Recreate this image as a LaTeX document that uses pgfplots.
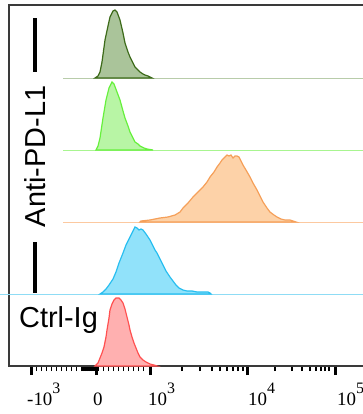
\documentclass[border=0pt]{standalone}
\usepackage{pgfplots}
\pgfplotsset{compat=1.18}
\usepackage{fontspec}
\setmainfont{Liberation Serif}
\newfontfamily\arial{Liberation Sans}
\definecolor{axisgray}{HTML}{3A3A3A}
\definecolor{dgL}{HTML}{3D6B1A}\definecolor{dgF}{HTML}{AAC49A}\definecolor{dgB}{HTML}{B8CCAA}
\definecolor{lgL}{HTML}{66F03C}\definecolor{lgF}{HTML}{B8F5A5}\definecolor{lgB}{HTML}{A8F590}
\definecolor{orL}{HTML}{F5A05A}\definecolor{orF}{HTML}{FDD2A8}\definecolor{orB}{HTML}{FCC9A0}
\definecolor{blL}{HTML}{28BEF0}\definecolor{blF}{HTML}{91E2FA}\definecolor{blB}{HTML}{8FDCF5}
\definecolor{rdL}{HTML}{FF5050}\definecolor{rdF}{HTML}{FFB0B0}
\newcommand\sq[1]{\raisebox{12bp}{\fontsize{16}{16}\selectfont #1}}
\begin{document}
\begin{tikzpicture}
\begin{axis}[
  x=1bp, y=1bp,
  xmin=9, xmax=366, ymin=0, ymax=361,
  clip=false,
  axis line style={draw=axisgray, line width=1.5bp},
  ytick=\empty,
  xtick pos=left,
  tick align=outside,
  xtick={31,96,150,247,335},
  xticklabels={{\hspace*{-4bp}-10\sq{3}},{\hspace*{-3bp}0},{\hspace*{-2bp}10\sq{3}},{\hspace*{1bp}10\sq{4}},{\hspace*{2bp}10\sq{5}}},
  minor xtick={36.7,41.7,46.7,51.7,56.7,61.7,66.7,71.7,76.7,82,84,86,88,90,92,94,98,103.3,108.3,113.3,118.3,123.3,128.3,133.3,138.3,143.3,182,200,212,220,227,233,238,243,275,292,302,310,316,321,325,329},
  major tick length=9bp, minor tick length=5bp,
  major tick style={line width=3bp, draw=black},
  minor tick style={line width=1.1bp, draw=black},
  xticklabel style={anchor=base west, inner sep=0pt, font=\fontsize{19}{19}\selectfont, yshift=-30bp},
]
% baselines
\addplot[draw=dgB, line width=0.8bp] coordinates {(63,288) (366,288)};
\addplot[draw=lgB, line width=0.8bp] coordinates {(63,216) (366,216)};
\addplot[draw=orB, line width=0.8bp] coordinates {(63,144) (366,144)};
\addplot[draw=blB, line width=0.8bp] coordinates {(0,72) (366,72)};
% dark green
\addplot[draw=dgL, fill=dgF, line width=1.2bp, y filter/.expression={y+288}] coordinates {
(95,0) (98,2) (100,6) (102,16) (105,38) (108,52) (110,61) (113,67) (115,68) (117,66) (120,58) (123,45) (125,35) (128,26) (130,21) (133,15) (135,11) (138,8) (140,6) (143,4) (145,3) (148,2) (150,1) (152,0)} -- cycle;
% light green
\addplot[draw=lgL, fill=lgF, line width=1.2bp, y filter/.expression={y+216}] coordinates {
(96,0) (98,4) (100,12) (103,32) (106,50) (109,62) (112,68) (114,66) (117,58) (120,50) (123,39) (125,32) (128,24) (130,18) (133,12) (135,8) (138,6) (140,4) (144,2) (147,1) (153,0)} -- cycle;
% orange
\addplot[draw=orL, fill=orF, line width=1.2bp, y filter/.expression={y+144}] coordinates {
(140,0) (141,1) (150,2) (160,4) (168,5) (175,7) (180,10) (183,14) (188,19) (193,25) (198,30) (203,35) (207,40) (210,45) (214,50) (217,55) (220,59) (222,62) (225,65) (227,67) (229,66) (231,67) (233,64) (235,66) (237,66) (239,65) (241,61) (243,57) (246,52) (250,45) (253,39) (257,32) (260,26) (263,20) (267,14) (270,10) (274,7) (277,5) (281,3) (285,2) (290,2) (293,1) (296,0)} -- cycle;
% blue
\addplot[draw=blL, fill=blF, line width=1.2bp, y filter/.expression={y+72}] coordinates {
(100,0) (103,2) (106,5) (109,9) (111,12) (113,15) (116,22) (119,31) (121,36) (123,41) (126,49) (128,53) (130,57) (133,63) (135,67) (137,66) (139,64) (141,65) (143,64) (146,60) (148,57) (150,54) (153,48) (155,44) (157,41) (160,35) (163,29) (166,23) (170,17) (173,13) (176,9) (179,6) (183,4) (187,3) (192,3) (197,2) (203,2) (208,2) (210,1) (211,0)} -- cycle;
% red
\addplot[draw=rdL, fill=rdF, line width=1.2bp] coordinates {
(95,0) (98,3) (100,8) (102,13) (104,19) (106,29) (107,36) (109,48) (110,56) (112,62) (114,66) (116,68) (119,68) (121,66) (123,63) (125,57) (127,49) (129,41) (130,36) (132,29) (134,23) (136,18) (138,13) (140,9) (143,6) (146,4) (150,2) (154,1) (157,0)} -- cycle;
% labels
\draw[line width=3.5bp] (axis cs:35,348) -- (axis cs:35,294);
\draw[line width=3.5bp] (axis cs:35,124) -- (axis cs:35,73);
\node[rotate=90, inner sep=0pt, font=\arial\fontsize{29}{29}\selectfont] at (axis cs:35,209.5) {Anti-PD-L1};
\node[anchor=base west, inner sep=0pt, font=\arial\fontsize{29}{29}\selectfont] at (axis cs:19,39) {Ctrl-Ig};
\coordinate (bbA) at (axis cs:0,-48);
\coordinate (bbB) at (axis cs:363,366);
\end{axis}
\pgfresetboundingbox
\path[use as bounding box] (bbA) rectangle (bbB);
\end{tikzpicture}
\end{document}
